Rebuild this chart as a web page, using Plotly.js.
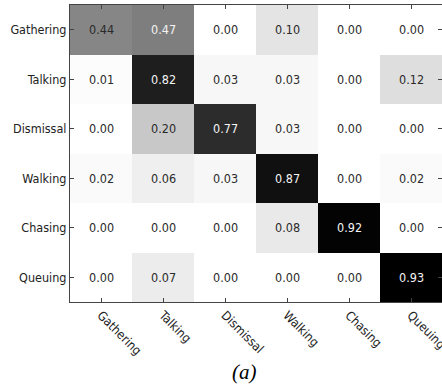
<!DOCTYPE html>
<html>
<head>
<meta charset="utf-8">
<script src="https://cdn.plot.ly/plotly-3.0.1.min.js"></script>
<style>html,body{margin:0;padding:0;background:#fff;overflow:hidden}#chart{width:442px;height:386px}</style>
</head>
<body>
<div id="chart"></div>
<script>
const classes = ["Gathering", "Talking", "Dismissal", "Walking", "Chasing", "Queuing"];
const rowGathering = [0.44, 0.47, 0.00, 0.10, 0.00, 0.00];
const rowTalking   = [0.01, 0.82, 0.03, 0.03, 0.00, 0.12];
const rowDismissal = [0.00, 0.20, 0.77, 0.03, 0.00, 0.00];
const rowWalking   = [0.02, 0.06, 0.03, 0.87, 0.00, 0.02];
const rowChasing   = [0.00, 0.00, 0.00, 0.08, 0.92, 0.00];
const rowQueuing   = [0.00, 0.07, 0.00, 0.00, 0.00, 0.93];
const caption = "(a)";

const z = [rowGathering, rowTalking, rowDismissal, rowWalking, rowChasing, rowQueuing];
const FONT = '"DejaVu Sans Condensed", "Liberation Sans Narrow", "Arial Narrow", Arial, sans-serif';

const annotations = [];
z.forEach((row, i) => row.forEach((v, j) => {
  annotations.push({
    x: classes[j], y: classes[i], xref: 'x', yref: 'y',
    text: v.toFixed(2), showarrow: false,
    font: {family: FONT, size: 12.5, color: v > 0.45 ? '#f4f4f4' : '#2a2a2a'}
  });
}));
annotations.push({
  xref: 'paper', yref: 'paper', x: 0.47, y: -0.235, xanchor: 'center', yanchor: 'middle',
  text: '<i>' + caption + '</i>', showarrow: false,
  font: {family: '"Liberation Serif", "Times New Roman", serif', size: 21, color: '#000'}
});

const data = [{
  type: 'heatmap',
  x: classes, y: classes, z: z,
  zmin: 0, zmax: 0.93,
  colorscale: [[0, '#ffffff'], [1, '#000000']],
  showscale: false, xgap: 0, ygap: 0, hoverinfo: 'skip'
}];

const axisCommon = {
  showline: true, linecolor: '#444', linewidth: 1, mirror: 'ticks',
  ticks: 'inside', ticklen: 4, tickcolor: '#444', tickwidth: 1,
  showgrid: false, zeroline: false,
  tickfont: {family: FONT, size: 12.5, color: '#222'}
};

const layout = {
  width: 442, height: 386,
  margin: {l: 70, r: 0, t: 5, b: 84},
  paper_bgcolor: '#fff', plot_bgcolor: '#fff',
  xaxis: Object.assign({}, axisCommon, {type: 'category', tickangle: 45}),
  yaxis: Object.assign({}, axisCommon, {type: 'category', autorange: 'reversed'}),
  annotations: annotations,
  showlegend: false
};

Plotly.newPlot('chart', data, layout, {displayModeBar: false, staticPlot: true});
</script>
</body>
</html>
